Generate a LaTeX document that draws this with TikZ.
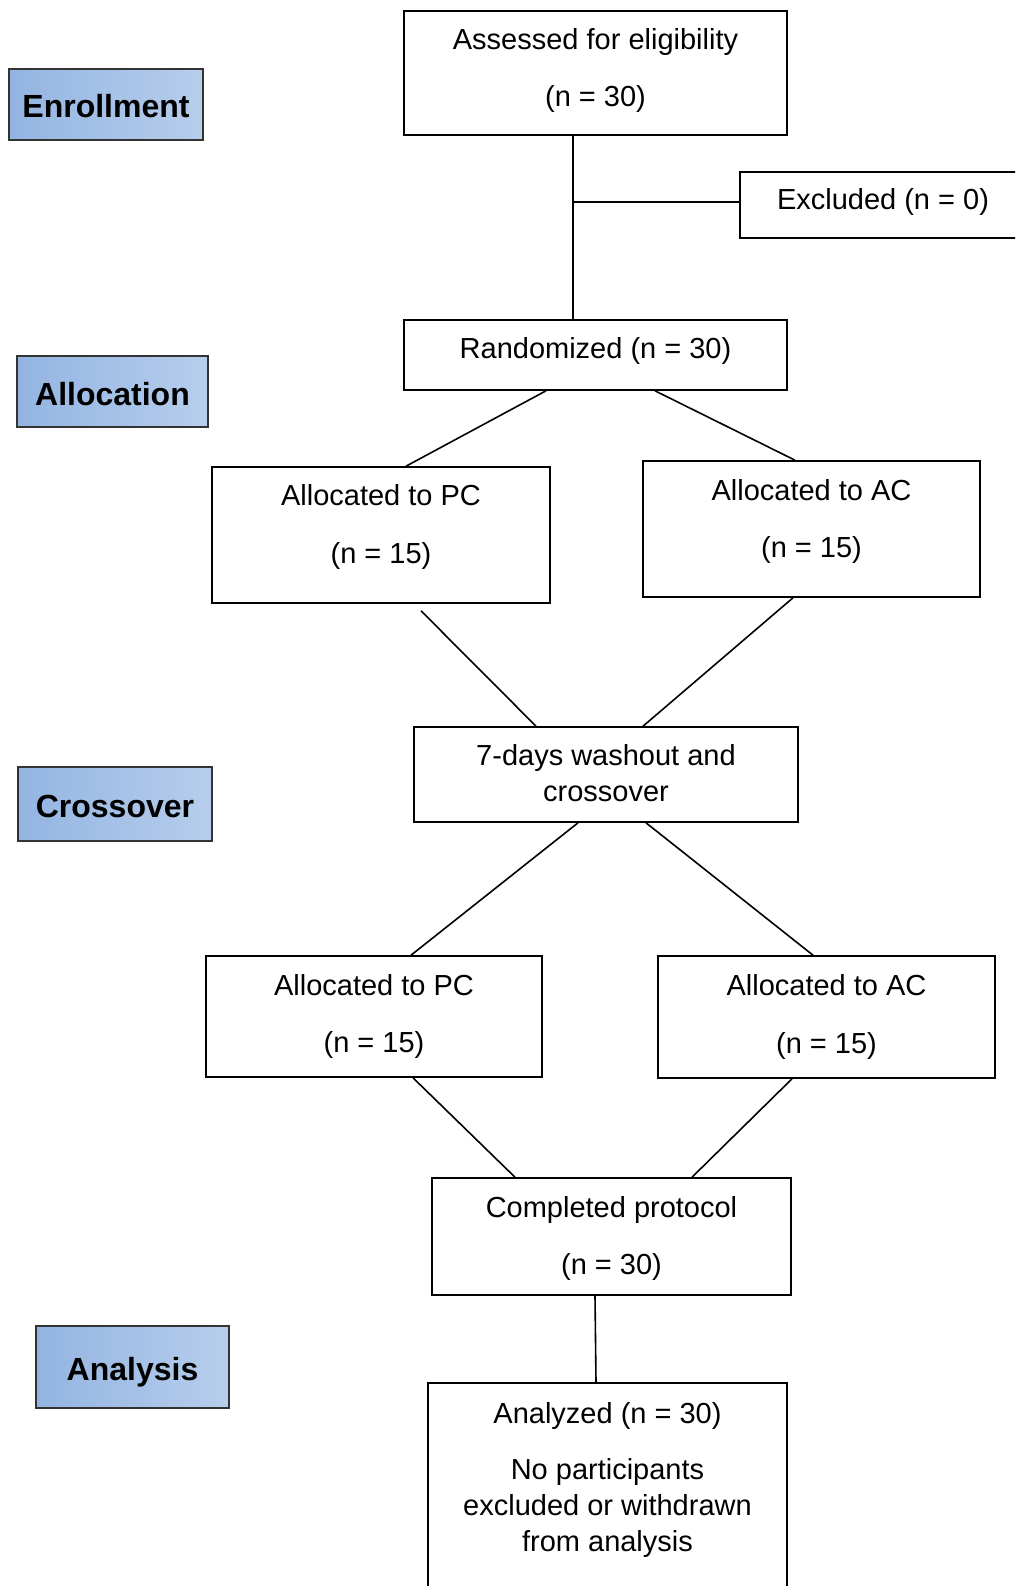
\documentclass[tikz,border=0pt]{standalone}
\usepackage{fontspec}
\setmainfont{Liberation Sans}
\definecolor{lblL}{RGB}{147,180,226}
\definecolor{lblR}{RGB}{183,206,236}
\begin{document}
\begin{tikzpicture}[x=1pt,y=-1pt,
  flowbox/.style={draw=black, line width=1.6pt, inner sep=0pt, fill=white},
  txt/.style={anchor=base, align=center, inner sep=0pt, font=\fontsize{29}{36}\selectfont},
  lbl/.style={draw=black!80, line width=1.3pt, left color=lblL, right color=lblR, inner sep=0pt,
    text height=27pt, text depth=0pt, font=\fontsize{32}{36}\selectfont\bfseries},
  conn/.style={line width=1.6pt}]
\useasboundingbox (0,0) rectangle (1015,1586);
\clip (0,0) rectangle (1015,1586);
% side labels
\node[lbl, minimum width=194pt, minimum height=71pt] (enroll) at (106,104.5) {Enrollment};
\node[lbl, minimum width=191pt, minimum height=71pt] (alloc) at (112.5,391.5) {Allocation};
\node[lbl, minimum width=194pt, minimum height=74pt] (cross) at (115,804) {Crossover};
\node[lbl, minimum width=193pt, minimum height=82pt] (analysis) at (132.5,1367) {Analysis};
% boxes
\node[flowbox, minimum width=383pt, minimum height=124pt] (assess) at (595.5,73) {};
\node[flowbox, minimum width=300pt, minimum height=66pt] (excl) at (890,205) {};
\node[flowbox, minimum width=383pt, minimum height=70pt] (rand) at (595.5,355) {};
\node[flowbox, minimum width=338pt, minimum height=136pt] (pc1) at (381,535) {};
\node[flowbox, minimum width=337pt, minimum height=136pt] (ac1) at (811.5,529) {};
\node[flowbox, minimum width=384pt, minimum height=95pt] (wash) at (606,774.5) {};
\node[flowbox, minimum width=336pt, minimum height=121pt] (pc2) at (374,1016.5) {};
\node[flowbox, minimum width=337pt, minimum height=122pt] (ac2) at (826.5,1017) {};
\node[flowbox, minimum width=359pt, minimum height=117pt] (comp) at (611.5,1236.5) {};
\node[flowbox, minimum width=359pt, minimum height=237pt] (anal) at (607.5,1501.5) {};
% texts (anchor = baseline of last line)
\node[txt] (tassess) at (595.5,107) {Assessed for eligibility\\[21pt](n = 30)};
\node[txt] (texcl) at (883,210) {Excluded (n = 0)};
\node[txt] (trand) at (595.5,358) {Randomized (n = 30)};
\node[txt] (tpc1) at (381,563) {Allocated to PC\\[22pt](n = 15)};
\node[txt] (tac1) at (811.5,557) {Allocated to AC\\[21pt](n = 15)};
\node[txt] (twash) at (606,801) {7-days washout and\\crossover};
\node[txt] (tpc2) at (374,1052) {Allocated to PC\\[21pt](n = 15)};
\node[txt] (tac2) at (826.5,1053) {Allocated to AC\\[22pt](n = 15)};
\node[txt] (tcomp) at (611.5,1274) {Completed protocol\\[21pt](n = 30)};
\node[txt] (tanal) at (607.5,1551) {Analyzed (n = 30)\\[20pt]No participants\\excluded or withdrawn\\from analysis};
% connectors
\coordinate (j) at (573,202);
\draw[conn] (assess.south -| j) -- (rand.north -| j);
\draw[conn] (j) -- (excl.west |- j);
\draw[conn] ([xshift=-49.5pt]rand.south) -- ([xshift=25pt]pc1.north);
\draw[conn] ([xshift=59.5pt]rand.south) -- ([xshift=-16.5pt]ac1.north);
\draw[conn] ([xshift=40pt,yshift=-7pt]pc1.south) -- ([xshift=-70pt]wash.north);
\draw[conn] ([xshift=-18.5pt]ac1.south) -- ([xshift=37pt]wash.north);
\draw[conn] ([xshift=-28pt]wash.south) -- ([xshift=37pt]pc2.north);
\draw[conn] ([xshift=40pt]wash.south) -- ([xshift=-13.5pt]ac2.north);
\draw[conn] ([xshift=39pt]pc2.south) -- ([xshift=-96.5pt]comp.north);
\draw[conn] ([xshift=-34.5pt]ac2.south) -- ([xshift=80.5pt]comp.north);
\draw[conn] ([xshift=-16.5pt]comp.south) -- ([xshift=-11.5pt]anal.north);
\end{tikzpicture}
\end{document}
